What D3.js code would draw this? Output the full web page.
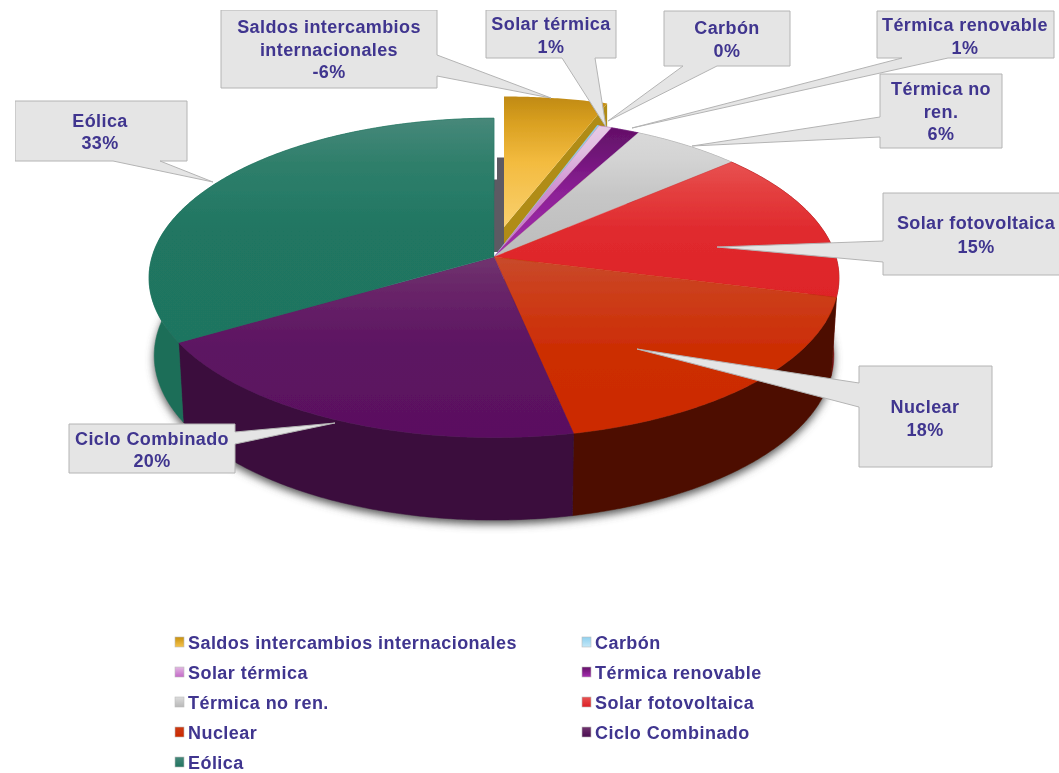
<!DOCTYPE html>
<html>
<head>
<meta charset="utf-8">
<style>
html,body{margin:0;padding:0;background:#fff;}
svg{display:block;}
text{font-family:"Liberation Sans",Arial,sans-serif;font-weight:bold;fill:#3f358f;}
</style>
<script src="https://cdnjs.cloudflare.com/ajax/libs/d3/7.8.5/d3.min.js"></script>
</head>
<body>
<svg id="chart" width="1059" height="773"></svg>
<script>
// ---- data ----
const categories = ["Saldos intercambios internacionales","Carbón","Solar térmica","Térmica renovable","Térmica no ren.","Solar fotovoltaica","Nuclear","Ciclo Combinado","Eólica"];
const values = [5.5,0.1,0.7,1.5,5.8,15.4,17.75,19.75,33.5];
const percentLabels = ["-6%","0%","1%","1%","6%","15%","18%","20%","33%"];

// ---- styles (top gradient stops, side wall colours) ----
const topStops = [
  ["#c08a12","#d9a021","#f3bb3f","#f9d06e"],
  ["#8fd0ee","#8fd0ee","#8fd0ee","#bfe6f7"],
  ["#e6cbe6","#e0bde0","#cf8fd2","#c468c8"],
  ["#641068","#701478","#8c2096","#a52fb0"],
  ["#d9d9d9","#d4d4d4","#c6c6c6","#bcbcbc"],
  ["#e85252","#e44040","#e02a2e","#de2428"],
  ["#c84a2c","#cc3e1a","#cc2e06","#cc2a00"],
  ["#70346f","#682468","#5c1462","#5a1060"],
  ["#47887a","#2f7f6b","#207662","#1f7560"]
];
const wallColors = ["#b08c12","#6bb0d0","#a060a0","#4a1050","#8a8a8a","#7a1010","#4d1000","#3a0e3c","#1e6e59"];
const swatchStops = [
  ["#c8900f","#f6c44c"],["#8fd0ee","#c4e8f8"],["#e2b8e2","#c468c8"],["#641068","#a52fb0"],
  ["#dcdcdc","#b8b8b8"],["#e85252","#dc2024"],["#cc3a14","#cc2a00"],["#70346f","#4a0c50"],["#47887a","#1f7560"]
];

// ---- layout ----
const W = 1059, H = 773;
const apex = {x:494, y:257};
const persp = {ax:342, by:157, k:0.131};      // perspective of the top disc
const base = {sx:0.985, sy:1.03, dy:77};      // lower disc relative to the top disc
const explode = {dx:10, dy:-30, sx:1, sy:0.94};
const callouts = [
  {box:[221,10,216,78], side:"right", a:55, b:76, tip:[551,98], cx:329, lines:[["Saldos intercambios",33],["internacionales",56]], py:78},
  {box:[664,11,126,55], side:"bottom", a:683, b:717, tip:[608,121], cx:727, lines:[["Carbón",34]], py:57},
  {box:[486,10,130,48], side:"bottom", a:562, b:595, tip:[606,127], cx:551, lines:[["Solar térmica",30]], py:53},
  {box:[877,11,177,47], side:"bottom", a:902, b:948, tip:[632,128], cx:965, lines:[["Térmica renovable",31]], py:54},
  {box:[880,74,122,74], side:"left", a:117, b:137, tip:[692,146], cx:941, lines:[["Térmica no",95],["ren.",118]], py:140},
  {box:[883,193,190,82], side:"left", a:241, b:262, tip:[717,247], cx:976, lines:[["Solar fotovoltaica",229]], py:253},
  {box:[859,366,133,101], side:"left", a:383, b:407, tip:[637,349], cx:925, lines:[["Nuclear",413]], py:436},
  {box:[69,424,166,49], side:"right", a:432, b:444, tip:[335,423], cx:152, lines:[["Ciclo Combinado",445]], py:467},
  {box:[15,101,172,60], side:"bottom", a:113, b:160, tip:[213,182], cx:100, lines:[["Eólica",127]], py:149}
];
const legendCols = [175,582], legendRows = [643,673,703,733,763];
const legendOrder = [[0,0,0],[1,1,0],[2,0,1],[3,1,1],[4,0,2],[5,1,2],[6,0,3],[7,1,3],[8,0,4]];

// ---- helpers ----
const svg = d3.select("#chart");
const defs = svg.append("defs");
const line = d3.line();
const pie = d3.pie().sort(null).value(d=>d).startAngle(0).endAngle(2*Math.PI);
const arcs = pie(values);

function topPt(a, r=1){
  const x = r*Math.sin(a), y = -r*Math.cos(a), w = 1 - persp.k*y;
  return [persp.ax*x/w, persp.by*y/w];
}
const onTop = (a,r)=>{const p=topPt(a,r);return [apex.x+p[0], apex.y+p[1]];};
const onBase = (a,r)=>{const p=topPt(a,r);return [apex.x+base.sx*p[0], apex.y+base.dy+base.sy*p[1]];};
const onTopEx = (a,r)=>{const p=topPt(a,r);return [apex.x+explode.dx+explode.sx*p[0], apex.y+explode.dy+explode.sy*p[1]];};
const onBaseEx = (a,r)=>{const p=onTopEx(a,r);return [p[0], p[1]+base.dy];};
function rim(fn,a0,a1){
  const n = Math.max(2, Math.ceil((a1-a0)/0.01));
  return d3.range(n+1).map(i=>fn(a0+(a1-a0)*i/n));
}

defs.append("filter").attr("id","soft").attr("x","-10%").attr("y","-10%").attr("width","120%").attr("height","120%")
  .append("feGaussianBlur").attr("stdDeviation",4);
defs.append("filter").attr("id","aa").attr("x","0").attr("y","0").attr("width","100%").attr("height","100%")
  .append("feGaussianBlur").attr("stdDeviation",0.45);

function grad(id,stops,offs){
  const g = defs.append("linearGradient").attr("id",id).attr("x1",0).attr("y1",0).attr("x2",0).attr("y2",1);
  stops.forEach((c,i)=>g.append("stop").attr("offset",offs[i]).attr("stop-color",c));
}
topStops.forEach((s,i)=>grad("top"+i,s,[0,0.2,0.5,1]));
swatchStops.forEach((s,i)=>grad("sw"+i,s,[0,1]));

const root = svg.append("g").attr("filter","url(#aa)");
const gold = arcs[0];

// soft drop shadow below the lower rim
const mainArcs = arcs.slice(1);
root.append("path")
  .attr("d",line(rim(onBase,Math.PI*0.42,Math.PI*1.62))+"Z")
  .attr("transform","translate(0,4)")
  .attr("fill","#555").attr("filter","url(#soft)");

// exploded slice: inner wall seen through the gap
const gapTop = onTopEx(0,1), gapApex = onTopEx(0,0);
root.append("path")
  .attr("d",line([[gapTop[0]-7,gapTop[1]+61],[gapTop[0],gapTop[1]+61],[gapApex[0],gapApex[1]+25],[apex.x,gapApex[1]+25],[apex.x,gapTop[1]+83],[gapTop[0]-7,gapTop[1]+83]])+"Z")
  .attr("fill","#5d5a63");

// exploded slice: right-hand cut wall, then its top
root.append("path")
  .attr("d",line([onTopEx(gold.endAngle,0),onTopEx(gold.endAngle,1),onBaseEx(gold.endAngle,1),onBaseEx(gold.endAngle,0)])+"Z")
  .attr("fill",wallColors[0]);
root.append("path")
  .attr("d",line([onTopEx(gold.startAngle,0),...rim(onTopEx,gold.startAngle,gold.endAngle)])+"Z")
  .attr("fill","url(#top0)");

// side walls
root.selectAll("path.wall").data(mainArcs).enter().append("path").attr("class","wall")
  .attr("d",d=>line([...rim(onTop,d.startAngle,d.endAngle),...rim(onBase,d.startAngle,d.endAngle).reverse()])+"Z")
  .attr("fill",d=>wallColors[d.index]).attr("stroke",d=>wallColors[d.index]).attr("stroke-width",0.5);

// top faces
root.selectAll("path.face").data(mainArcs).enter().append("path").attr("class","face")
  .attr("d",d=>line([onTop(0,0),...rim(onTop,d.startAngle,d.endAngle)])+"Z")
  .attr("fill",d=>`url(#top${d.index})`).attr("stroke",d=>topStops[d.index][2]).attr("stroke-width",0.4);

// callouts
function calloutPath(c){
  const [x,y,w,h] = c.box, r = x+w, b = y+h;
  let pts;
  if(c.side==="right") pts=[[x,y],[r,y],[r,c.a],c.tip,[r,c.b],[r,b],[x,b]];
  else if(c.side==="left") pts=[[x,y],[r,y],[r,b],[x,b],[x,c.b],c.tip,[x,c.a]];
  else pts=[[x,y],[r,y],[r,b],[c.b,b],c.tip,[c.a,b],[x,b]];
  return line(pts)+"Z";
}
const cg = root.selectAll("g.callout").data(callouts).enter().append("g").attr("class","callout");
cg.append("path").attr("d",calloutPath).attr("fill","#e5e5e5").attr("stroke","#b4b4b4").attr("stroke-width",1);
cg.each(function(c,i){
  const g = d3.select(this);
  c.lines.forEach(l=>g.append("text").attr("x",c.cx).attr("y",l[1]).attr("text-anchor","middle").attr("font-size",18).attr("letter-spacing",0.4).text(l[0]));
  g.append("text").attr("x",c.cx).attr("y",c.py).attr("text-anchor","middle").attr("font-size",18).attr("letter-spacing",0.4).text(percentLabels[i]);
});

// legend
const lg = root.selectAll("g.leg").data(legendOrder).enter().append("g").attr("class","leg");
lg.append("rect")
  .attr("x",d=>legendCols[d[1]]).attr("y",d=>legendRows[d[2]]-6)
  .attr("width",9).attr("height",10)
  .attr("fill",d=>`url(#sw${d[0]})`).attr("stroke","#bdbdbd").attr("stroke-width",0.6);
lg.append("text")
  .attr("x",d=>legendCols[d[1]]+13).attr("y",d=>legendRows[d[2]]+6)
  .attr("font-size",18).attr("letter-spacing",0.45).text(d=>categories[d[0]]);
</script>
</body>
</html>
